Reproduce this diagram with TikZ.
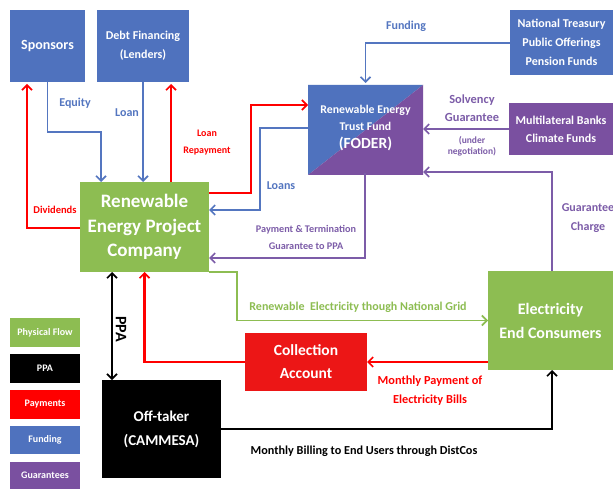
\documentclass[tikz,border=0pt]{standalone}
\usepackage{fontspec}
\setmainfont{Carlito}
\usetikzlibrary{arrows.meta,calc}
\definecolor{cblue}{RGB}{79,114,190}
\definecolor{lblue}{RGB}{84,118,192}
\definecolor{cgreen}{RGB}{141,189,82}
\definecolor{cred}{RGB}{255,0,0}
\definecolor{cred2}{RGB}{236,22,22}
\definecolor{cpurple}{RGB}{122,80,160}
\definecolor{lpurple}{RGB}{124,92,168}
\begin{document}
\begin{tikzpicture}[x=1pt,y=-1pt,
  box/.style={inner sep=0pt,outer sep=0pt,text=white,font=\bfseries,align=center},
  barb/.tip={Straight Barb[length=5pt,width=10pt,line width=1.6pt]},
  tip/.style={-barb},
  fund/.style={draw=lblue,line width=1.8pt,tip},
  pay/.style={draw=cred,line width=2.2pt,tip},
  guar/.style={draw=lpurple,line width=1.9pt,tip},
  phys/.style={draw=cgreen,line width=1.8pt,tip},
  ppa/.style={draw=black,line width=2.2pt,tip},
  lbl/.style={font=\bfseries\fontsize{12}{14}\selectfont,align=center,inner sep=0pt},
  leg/.style={box,minimum width=70pt,font=\bfseries\fontsize{10}{12}\selectfont}
]
\useasboundingbox[fill=white] (0,0) rectangle (613,489);

% boxes
\node[box,fill=cblue,minimum width=75pt,minimum height=72pt,font=\bfseries\fontsize{14}{17}\selectfont] (spon) at (47.5,46) {Sponsors};
\node[box,fill=cblue,minimum width=92pt,minimum height=72pt,font=\bfseries\fontsize{12}{19}\selectfont] (debt) at (143,46) {Debt Financing\\(Lenders)};
\node[box,fill=cblue,minimum width=103pt,minimum height=65pt,font=\bfseries\fontsize{12}{19}\selectfont] (treas) at (561.5,42.5) {National Treasury\\Public Offerings\\Pension Funds};
\fill[cblue] (308,85) -- (423,85) -- (308,175) -- cycle;
\fill[cpurple] (308,175) -- (423,85) -- (423,175) -- cycle;
\node[box,minimum width=115pt,minimum height=90pt,font=\bfseries\fontsize{11.8}{17}\selectfont] (foder) at (365.5,128) {Renewable Energy\\Trust Fund\\[1pt]\fontsize{15.5}{19}\selectfont (FODER)};
\node[box,fill=cpurple,minimum width=104pt,minimum height=52pt,font=\bfseries\fontsize{12}{18}\selectfont] (multi) at (561,129) {Multilateral Banks\\Climate Funds};
\node[box,fill=cgreen,minimum width=129pt,minimum height=90pt,font=\bfseries\fontsize{19}{24.5}\selectfont] (repc) at (144.5,227) {Renewable\\Energy Project\\Company};
\node[box,fill=cgreen,minimum width=125pt,minimum height=99pt,font=\bfseries\fontsize{16}{24}\selectfont] (endc) at (550.5,320.5) {Electricity\\End Consumers};
\node[box,fill=cred2,minimum width=122pt,minimum height=58pt,font=\bfseries\fontsize{15.5}{23}\selectfont] (coll) at (306,362) {Collection\\Account};
\node[box,fill=black,minimum width=119pt,minimum height=98pt,font=\bfseries\fontsize{15}{24}\selectfont] (off) at (161.5,429) {Off-taker\\(CAMMESA)};

% legend
\node[leg,fill=cgreen,minimum height=29pt] (lg1) at (45,332.5) {Physical Flow};
\node[leg,fill=black,minimum height=29pt] (lg2) at (45,368.5) {PPA};
\node[leg,fill=cred,minimum height=29pt] (lg3) at (45,404.5) {Payments};
\node[leg,fill=cblue,minimum height=28pt] (lg4) at (45,440) {Funding};
\node[leg,fill=cpurple,minimum height=27pt] (lg5) at (45,475.5) {Guarantees};

% connectors
\draw[fund] (spon.south) -- ($(spon.south)+(0,50)$) -| ($(repc.north)+(-43.5,0)$);
\draw[fund] (debt.south) -- (debt.south |- repc.north);
\coordinate (lr) at ($(repc.north)+(26.5,0)$);
\draw[pay,shorten >=2pt] (lr) -- (lr |- debt.south);
\draw[pay,shorten >=2pt] ($(repc.west)+(0,1)$) -| ($(spon.south)+(-20.5,0)$);
\draw[pay] ($(repc.east)+(0,-34)$) -- ++(42,0) |- ($(foder.west)+(0,-23)$);
\draw[fund] ($(foder.west)+(0,0)$) -- ++(-48,0) |- ($(repc.east)+(0,-17)$);
\draw[guar] ($(foder.south)+(-0.5,0)$) |- ($(repc.east)+(0,31)$);
\draw[fund] ($(treas.west)+(0,0.5)$) -| (foder.north);
\draw[guar] (multi.west) -- (multi.west -| foder.east);
\draw[guar] ($(endc.north)+(1.5,0)$) |- ($(foder.east)+(0,44)$);
\draw[phys] (repc.south east) -- ++(28,0) |- (endc.west);
\draw[pay] (endc.west |- coll.east) -- (coll.east);
\draw[pay] (coll.west) -| (repc.south);
\coordinate (pp) at ($(repc.south)+(-32.5,0)$);
\draw[draw=black,line width=2.2pt,barb-barb] (pp) -- (pp |- off.north);
\draw[ppa] (off.east) -| ($(endc.south)+(1.5,0)$);

% labels
\node[lbl,text=lblue] (l1) at (75,103) {Equity};
\node[lbl,text=lblue] (l2) at (127,113) {Loan};
\node[lbl,text=cred,font=\bfseries\fontsize{10}{17}\selectfont] (l3) at (207,143) {Loan\\Repayment};
\node[lbl,text=cred,font=\bfseries\fontsize{10.5}{12}\selectfont] (l4) at (55,210) {Dividends};
\node[lbl,text=lblue] (l5) at (281,186) {Loans};
\node[lbl,text=lblue] (l6) at (406,26) {Funding};
\node[lbl,text=lpurple,font=\bfseries\fontsize{12.4}{18}\selectfont] (l7) at (472,108) {Solvency\\Guarantee};
\node[lbl,text=lpurple,font=\bfseries\fontsize{9.5}{11}\selectfont] (l8) at (472,146) {(under\\negotiation)};
\node[lbl,text=lpurple,font=\bfseries\fontsize{12}{19}\selectfont] (l9) at (588,218.5) {Guarantee\\Charge};
\node[lbl,text=lpurple,font=\bfseries\fontsize{10.2}{17}\selectfont] (l10) at (306,237.5) {Payment \& Termination\\Guarantee to PPA};
\node[lbl,text=cgreen] (l11) at (358,307) {Renewable\ \ Electricity though National Grid};
\node[lbl,text=cred,font=\bfseries\fontsize{12.3}{19}\selectfont] (l12) at (430,391) {Monthly Payment of\\Electricity Bills};
\node[lbl,text=black,font=\bfseries\fontsize{12.2}{14}\selectfont] (l13) at (364,451) {Monthly Billing to End Users through DistCos};
\node[lbl,text=black,font=\bfseries\fontsize{16}{18}\selectfont,rotate=-90] (l14) at (121,329) {PPA};
\end{tikzpicture}
\end{document}
